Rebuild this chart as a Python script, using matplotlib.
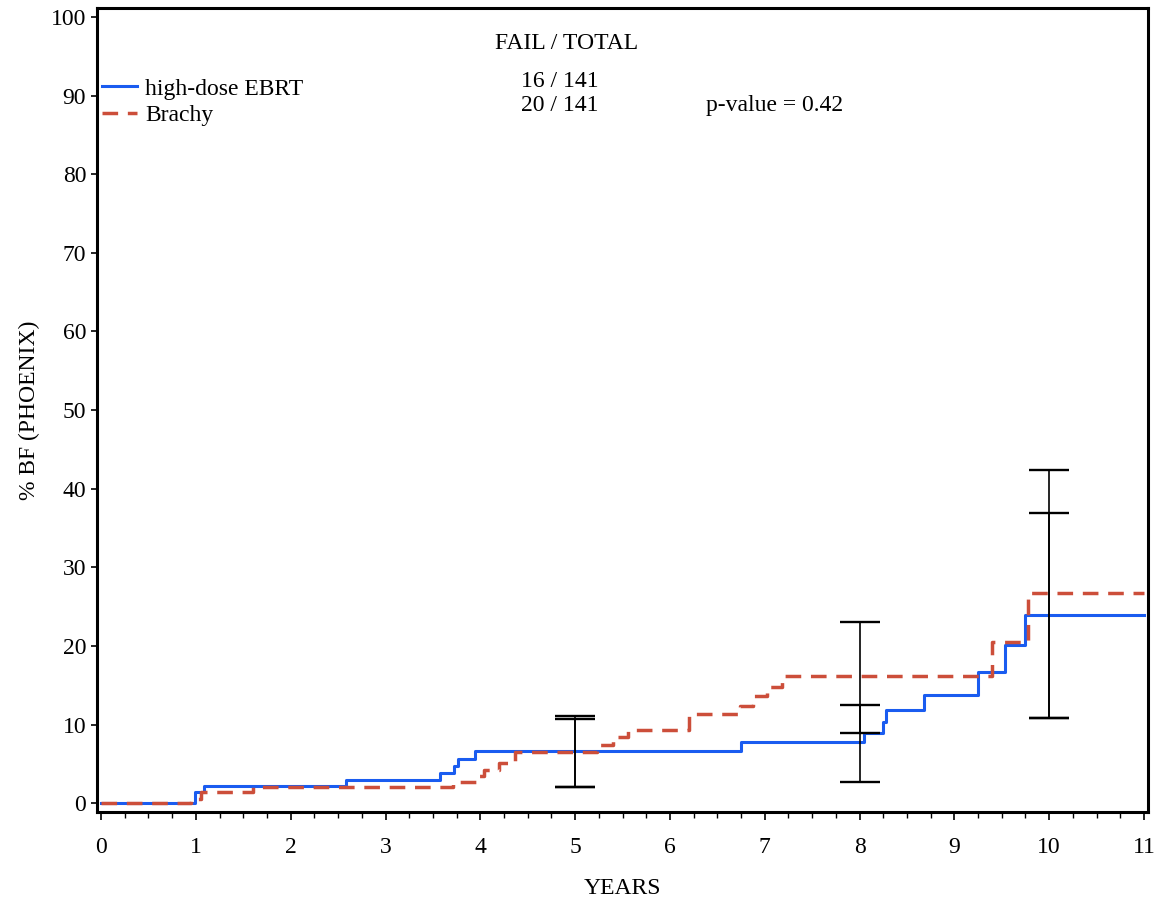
import numpy as np
import matplotlib
matplotlib.use('Agg')
import matplotlib.pyplot as plt
from matplotlib.ticker import MultipleLocator

plt.rcParams['font.family'] = ['Liberation Serif', 'DejaVu Serif']

# step curves (time in years, % biochemical failure)
ebrt_t = [0, 0.99, 1.09, 2.58, 3.58, 3.72, 3.76, 3.94, 6.75, 8.05, 8.25,
          8.28, 8.68, 9.25, 9.53, 9.75, 11]
ebrt_y = [0, 1.4, 2.2, 2.9, 3.9, 4.8, 5.6, 6.6, 7.75, 9.0, 10.4,
          11.9, 13.8, 16.7, 20.1, 24.0, 24.0]

brachy_t = [0, 0.95, 1.05, 1.6, 3.71, 3.97, 4.04, 4.2, 4.37, 5.23, 5.4,
            5.56, 6.2, 6.74, 6.88, 7.02, 7.18, 9.4, 9.78, 11]
brachy_y = [0, 0.6, 1.4, 2.1, 2.7, 3.5, 4.2, 5.1, 6.5, 7.45, 8.4,
            9.3, 11.3, 12.4, 13.6, 14.8, 16.2, 20.5, 26.8, 26.8]

# confidence intervals at 5, 8 and 10 years
ci_years = [5, 8, 10]
ebrt_lo = [2.1, 2.7, 10.9]
ebrt_hi = [10.7, 12.5, 36.9]
brachy_lo = [2.1, 8.9, 10.9]
brachy_hi = [11.1, 23.1, 42.4]

fail_total = ['16 / 141', '20 / 141']
p_value = 'p-value = 0.42'

fs = 17

fig = plt.figure(figsize=(11.57, 9.0), dpi=100)
ax = fig.add_axes([0.0841, 0.0974, 0.9079, 0.8934])

ax.plot(ebrt_t, ebrt_y, drawstyle='steps-post', color='#1a5cf0', lw=2.2,
        label='high-dose EBRT', zorder=3)
ax.plot(brachy_t, brachy_y, drawstyle='steps-post', color='#cc4e3a', lw=2.5,
        dashes=(4.5, 2.8), label='Brachy', zorder=4)

for lo, hi in [(ebrt_lo, ebrt_hi), (brachy_lo, brachy_hi)]:
    mid = [(a + b) / 2 for a, b in zip(lo, hi)]
    err = [[m - a for m, a in zip(mid, lo)], [b - m for m, b in zip(mid, hi)]]
    ax.errorbar(ci_years, mid, yerr=err, fmt='none', ecolor='black',
                elinewidth=1.2, capsize=14.5, capthick=1.7, zorder=5)

ax.set_xlim(-0.04, 11.04)
ax.set_ylim(-1.15, 101.1)
ax.xaxis.set_major_locator(MultipleLocator(1))
ax.xaxis.set_minor_locator(MultipleLocator(0.25))
ax.yaxis.set_major_locator(MultipleLocator(10))

for s in ax.spines.values():
    s.set_linewidth(2.2)
ax.tick_params(axis='x', which='major', direction='out', length=6, width=1.2,
               pad=12, labelsize=fs)
ax.tick_params(axis='x', which='minor', direction='out', length=4, width=1.0)
ax.tick_params(axis='y', which='major', direction='out', length=4, width=1.2,
               pad=4, labelsize=fs)

ax.set_xlabel('YEARS', fontsize=fs)
ax.xaxis.set_label_coords(0.5, -0.082)
ax.set_ylabel('% BF (PHOENIX)', fontsize=fs)
ax.yaxis.set_label_coords(-0.0545, 0.5)

leg = ax.legend(loc='upper left', bbox_to_anchor=(0.004, 0.913), frameon=False,
                fontsize=fs, handlelength=1.5, handletextpad=0.35,
                borderaxespad=0, borderpad=0, labelspacing=0.2)

ax.text(0.447, 0.9556, 'FAIL / TOTAL', transform=ax.transAxes,
        ha='center', va='center', fontsize=fs)
ax.text(0.4405, 0.909, fail_total[0], transform=ax.transAxes,
        ha='center', va='center', fontsize=fs)
ax.text(0.4405, 0.879, fail_total[1], transform=ax.transAxes,
        ha='center', va='center', fontsize=fs)
ax.text(0.579, 0.879, p_value, transform=ax.transAxes,
        ha='left', va='center', fontsize=fs)

fig.savefig('out.png', dpi=100)
